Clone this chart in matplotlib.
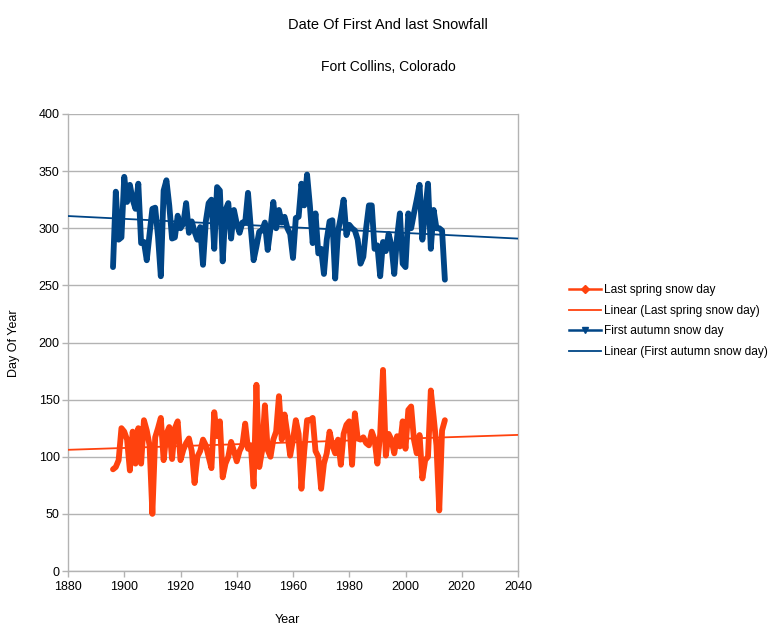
import numpy as np
import matplotlib
matplotlib.use("Agg")
import matplotlib.pyplot as plt
from matplotlib.lines import Line2D

plt.rcParams['font.family'] = ['Liberation Sans', 'DejaVu Sans']

years = list(range(1896, 2015))

first_autumn = [
    266, 332, 290, 292, 345, 323, 338, 325, 317, 339,
    287, 288, 272, 295, 317, 318, 293, 258, 333, 342,
    320, 291, 292, 311, 300, 304, 322, 296, 306, 297,
    290, 301, 268, 306, 322, 325, 282, 336, 333, 271,
    316, 322, 291, 316, 304, 296, 305, 305, 331, 300,
    272, 284, 297, 298, 305, 281, 300, 323, 300, 316,
    305, 310, 300, 295, 274, 309, 310, 339, 320, 347,
    320, 287, 313, 278, 282, 260, 290, 306, 307, 256,
    297, 310, 325, 294, 303, 300, 298, 290, 269, 275,
    300, 320, 320, 282, 285, 258, 288, 280, 295, 285,
    260, 292, 313, 269, 266, 313, 300, 313, 325, 338,
    290, 315, 339, 282, 316, 300, 300, 298, 255,
]

last_spring = [
    89, 91, 97, 125, 122, 115, 88, 122, 94, 125,
    94, 132, 123, 110, 50, 117, 125, 134, 97, 120,
    126, 98, 125, 131, 97, 106, 112, 116, 105, 77,
    100, 105, 115, 110, 100, 90, 139, 118, 131, 82,
    94, 100, 113, 105, 96, 105, 110, 129, 107, 110,
    74, 163, 91, 105, 145, 106, 100, 115, 122, 153,
    115, 137, 120, 101, 115, 132, 120, 72, 105, 132,
    132, 134, 105, 100, 72, 94, 103, 122, 110, 103,
    115, 93, 120, 128, 131, 93, 138, 116, 115, 117,
    112, 110, 122, 115, 94, 120, 176, 101, 120, 115,
    103, 118, 109, 131, 107, 141, 144, 115, 103, 119,
    81, 97, 100, 158, 135, 110, 53, 123, 132,
]

x_ticks = [1880, 1900, 1920, 1940, 1960, 1980, 2000, 2020, 2040]
y_ticks = [0, 50, 100, 150, 200, 250, 300, 350, 400]

spring_color = '#ff420e'
autumn_color = '#004586'
grid_color = '#b3b3b3'

fig = plt.figure(figsize=(7.75, 6.35), dpi=100)
ax = fig.add_axes([68/775, 64/635, 450/775, 457/635])

yrs = np.array(years, dtype=float)
ax.plot(yrs, last_spring, color=spring_color, lw=4.2, solid_joinstyle='round',
        solid_capstyle='round', zorder=3)
ax.plot(yrs, first_autumn, color=autumn_color, lw=4.2, solid_joinstyle='round',
        solid_capstyle='round', zorder=3)

xl = np.array([x_ticks[0], x_ticks[-1]], dtype=float)
ps = np.polyfit(yrs, last_spring, 1)
pa = np.polyfit(yrs, first_autumn, 1)
ax.plot(xl, np.polyval(ps, xl), color=spring_color, lw=1.3, zorder=4)
ax.plot(xl, np.polyval(pa, xl), color=autumn_color, lw=1.3, zorder=4)

ax.set_xlim(x_ticks[0], x_ticks[-1])
ax.set_ylim(y_ticks[0], y_ticks[-1])
ax.set_xticks(x_ticks)
ax.set_yticks(y_ticks)
ax.yaxis.grid(True, color=grid_color, lw=1.0, zorder=0)
ax.set_axisbelow(True)
for s in ['left', 'bottom', 'right']:
    ax.spines[s].set_color(grid_color)
    ax.spines[s].set_linewidth(1.0)
ax.spines['top'].set_visible(False)
ax.tick_params(axis='both', color=grid_color, length=4, width=1.0,
               labelsize=9, labelcolor='black', pad=3)
ax.tick_params(axis='y', pad=2)

fig.text(287/775, 1 - 620/635, 'Year', ha='center', va='center', fontsize=9)
fig.text(14/775, 1 - 343/635, 'Day Of Year', ha='center', va='center',
         fontsize=9, rotation=90)

fig.text(388/775, 1 - 25/635, 'Date Of First And last Snowfall',
         ha='center', va='center', fontsize=10.5)
fig.text(388/775, 1 - 67/635, 'Fort Collins, Colorado',
         ha='center', va='center', fontsize=10)

handles = [
    Line2D([], [], color=spring_color, lw=1.8, marker='D', markersize=4),
    Line2D([], [], color=spring_color, lw=1.3),
    Line2D([], [], color=autumn_color, lw=1.8, marker='v', markersize=5),
    Line2D([], [], color=autumn_color, lw=1.3),
]
labels = ['Last spring snow day', 'Linear (Last spring snow day)',
          'First autumn snow day', 'Linear (First autumn snow day)']
fig.legend(handles, labels, loc='center left',
           bbox_to_anchor=(563/775, 1 - 321/635), frameon=False,
           fontsize=8.6, handlelength=2.7, handletextpad=0.25,
           labelspacing=0.72, borderpad=0)

fig.savefig('out.png', dpi=100)
